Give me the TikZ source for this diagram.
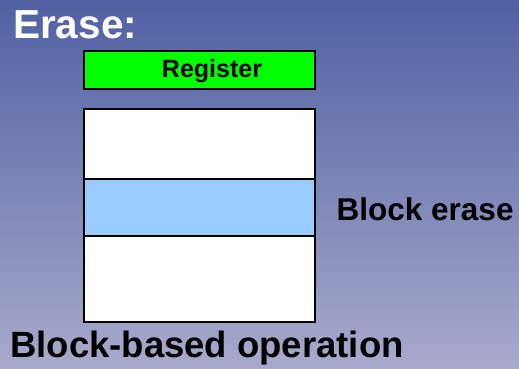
\documentclass[tikz,border=0pt]{standalone}
\usepackage{fontspec}
\setmainfont{Liberation Sans}
\definecolor{bgtop}{RGB}{80,96,162}
\definecolor{bgbottom}{RGB}{168,170,204}
\definecolor{regfill}{RGB}{0,255,0}
\definecolor{blockfill}{RGB}{153,204,255}
\begin{document}
\begin{tikzpicture}[x=1pt,y=-1pt,
  cell/.style={draw=black, line width=2pt, fill=white, inner sep=0pt, minimum width=231pt},
  caption/.style={inner sep=0pt, font=\bfseries}]
  \useasboundingbox (0,0) rectangle (519,368);
  % slide background
  \shade[top color=bgtop, bottom color=bgbottom] (0,0) rectangle (519,368);

  \node[caption, anchor=base west, text=white, font=\bfseries\fontsize{40.5}{40.5}\selectfont] (title) at (13,38.5) {Erase:};

  % register
  \node[cell, fill=regfill, minimum height=38pt] (reg) at (199.5,70) {};
  \node[caption, anchor=base, font=\bfseries\fontsize{25}{25}\selectfont] (regtext) at (212,77.5) {Register};

  % memory blocks
  \node[cell, minimum height=70pt] (top) at (199.5,144) {};
  \node[cell, fill=blockfill, minimum height=57pt] (erased) at (199.5,207.5) {};
  \node[cell, minimum height=86pt] (bottom) at (199.5,279) {};

  \node[caption, anchor=base west, font=\bfseries\fontsize{31.5}{31.5}\selectfont] (erlabel) at (336.5,220.5) {Block erase};
  \node[caption, anchor=base west, font=\bfseries\fontsize{36.5}{36.5}\selectfont] (oplabel) at (10,357) {Block-based operation};
\end{tikzpicture}
\end{document}
